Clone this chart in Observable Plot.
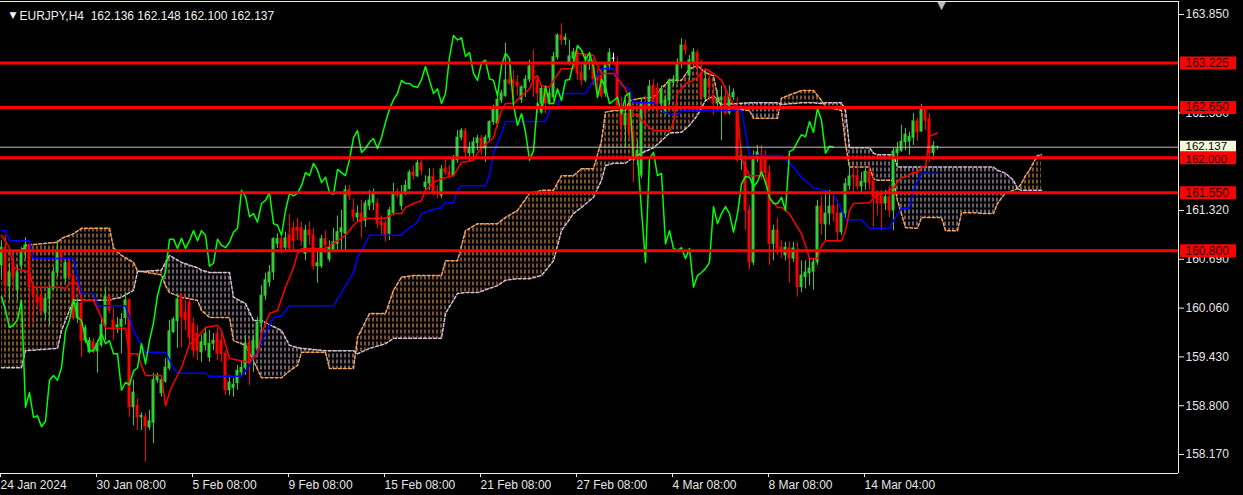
<!DOCTYPE html>
<html><head><meta charset="utf-8">
<script src="https://cdn.jsdelivr.net/npm/d3@7"></script>
<script src="https://cdn.jsdelivr.net/npm/@observablehq/plot@0.6"></script>
<style>
html,body{margin:0;padding:0;background:#000;}
#chart{width:1243px;height:495px;overflow:hidden;}
</style></head><body><div id="chart"></div>
<script>
// ---------- DATA ----------
const symbol = "EURJPY,H4";
const quote = "162.136 162.148 162.100 162.137";

const open = [
160.61,160.84,160.34,160.64,160.29,160.61,160.78,160.87,160.33,160.21,
160.21,160.00,160.18,160.31,160.52,160.78,160.44,160.64,160.47,159.93,
160.12,159.64,159.49,159.62,159.50,159.58,159.84,160.21,159.90,159.81,
159.82,159.93,160.16,158.78,158.80,158.65,158.65,158.52,158.58,159.13,
158.96,159.11,159.28,159.75,159.89,160.22,160.00,160.13,159.86,159.73,
159.49,159.58,159.42,159.60,159.73,159.64,159.47,159.00,159.03,159.09,
159.23,159.29,159.60,159.45,159.54,159.86,160.22,160.39,160.52,160.89,
160.95,160.84,161.00,161.09,161.10,161.09,160.76,161.06,161.00,160.60,
160.60,160.95,160.69,160.80,160.89,161.04,161.02,161.58,161.32,161.23,
161.28,161.19,161.38,161.42,161.41,161.17,161.15,161.02,161.29,161.55,
161.38,161.54,161.60,161.81,161.76,161.93,161.62,161.67,161.75,161.55,
161.51,161.86,161.81,161.77,161.97,162.26,162.34,162.06,162.06,162.19,
162.25,162.12,162.26,162.46,162.44,162.74,162.80,163.00,163.00,162.97,
162.75,162.90,163.01,163.19,163.00,162.70,162.89,162.70,162.78,163.30,
163.58,163.52,163.23,163.28,163.36,163.09,163.00,163.22,163.22,163.06,
163.06,162.83,163.19,163.28,163.23,162.65,162.42,162.57,162.33,161.99,
161.77,162.71,162.65,162.93,162.89,162.70,162.58,162.74,162.97,163.00,
163.22,163.45,163.06,163.23,163.35,163.09,162.78,163.01,162.80,162.70,
162.74,162.78,162.58,162.78,162.61,161.97,161.94,161.32,160.65,161.99,
162.04,162.00,161.80,160.89,161.06,160.84,160.74,160.83,160.70,160.80,
160.33,160.46,160.51,160.53,160.65,161.37,161.14,161.28,161.38,161.28,
161.04,161.28,161.64,161.77,161.76,161.63,161.68,161.82,161.69,161.54,
161.54,161.41,161.49,161.32,162.06,162.09,162.20,162.21,162.26,162.47,
162.34,162.64,162.50,162.06,162.136];
const high = [
160.93,161.00,160.64,160.74,160.61,160.84,160.97,160.89,160.38,160.29,
160.33,160.25,160.35,160.58,160.93,160.83,160.70,160.67,160.51,160.18,
160.16,159.84,159.68,159.67,159.64,159.94,160.33,160.22,160.06,159.94,
159.99,160.26,160.18,159.13,158.89,158.71,158.70,158.74,159.22,159.22,
159.16,159.41,159.90,159.94,160.25,160.25,160.16,160.18,159.93,159.84,
159.71,159.80,159.77,159.73,159.80,159.73,159.51,159.19,159.15,159.32,
159.38,159.71,159.67,159.71,159.94,160.35,160.51,160.61,160.97,161.02,
161.02,161.04,161.27,161.17,161.22,161.17,161.13,161.17,161.09,160.80,
161.00,161.06,160.93,161.09,161.25,161.32,161.64,161.64,161.47,161.38,
161.45,161.45,161.58,161.60,161.47,161.25,161.19,161.36,161.67,161.60,
161.64,161.71,161.84,161.90,161.97,161.97,161.77,161.86,161.86,161.64,
161.90,161.97,161.90,162.03,162.35,162.38,162.38,162.20,162.26,162.29,
162.29,162.29,162.48,162.68,162.80,162.87,163.48,163.26,163.13,163.06,
162.93,163.06,163.26,163.39,163.06,162.93,162.93,162.89,163.36,163.60,
163.73,163.60,163.52,163.41,163.39,163.19,163.32,163.32,163.28,163.15,
163.13,163.23,163.41,163.35,163.30,162.78,162.74,162.74,162.42,162.22,
162.77,162.80,163.00,163.01,162.96,162.93,162.80,163.02,163.06,163.28,
163.54,163.52,163.32,163.41,163.39,163.26,163.15,163.13,162.93,162.87,
162.93,162.93,162.93,162.89,162.78,162.09,162.03,161.38,162.09,162.16,
162.16,162.09,161.90,161.13,161.22,160.93,160.91,160.91,160.91,160.91,
160.67,160.67,160.70,160.70,161.45,161.51,161.58,161.58,161.51,161.45,
161.32,161.73,161.94,161.90,161.90,161.81,161.86,161.90,161.81,161.58,
161.58,161.58,161.64,162.12,162.20,162.42,162.38,162.33,162.57,162.51,
162.69,162.66,162.57,162.21,162.148];
const low = [
160.42,160.22,160.16,160.29,160.16,160.55,160.70,159.80,159.86,160.06,
159.99,159.90,159.84,160.29,160.46,160.64,160.38,160.42,159.90,159.86,
159.42,159.60,159.47,159.47,159.22,159.55,159.64,159.99,159.64,159.73,
159.47,159.84,158.65,158.54,158.48,158.48,158.07,158.48,158.31,159.09,
158.91,159.09,159.25,159.73,159.54,159.55,159.77,159.58,159.42,159.38,
159.36,159.51,159.36,159.51,159.38,159.36,158.93,158.93,158.91,159.00,
159.16,159.19,159.06,159.23,159.45,159.77,160.16,160.33,160.42,160.83,
160.76,160.80,160.78,160.80,160.93,160.86,160.67,160.87,160.55,160.38,
160.57,160.76,160.65,160.78,160.80,160.78,160.78,161.45,161.17,161.17,
160.96,161.10,161.32,161.32,161.09,161.00,160.91,160.93,161.25,161.47,
161.32,161.51,161.58,161.71,161.75,161.77,161.55,161.58,161.51,161.47,
161.47,161.77,161.73,161.75,161.93,162.22,161.97,161.94,162.00,162.09,
162.03,161.94,162.22,162.42,162.39,162.70,162.78,162.93,162.74,162.80,
162.70,162.78,162.97,162.78,162.57,162.58,162.57,162.68,162.74,163.26,
163.45,163.45,163.19,163.23,163.00,162.93,162.97,163.13,162.93,162.80,
162.77,162.78,163.13,163.23,162.64,162.21,162.12,162.22,161.68,161.90,
161.73,162.42,162.61,162.61,162.52,162.58,162.55,162.68,162.93,162.96,
163.15,163.32,163.00,163.18,163.06,162.74,162.74,162.74,162.55,162.61,
162.22,162.55,162.55,162.74,161.94,161.84,161.06,160.55,160.61,161.94,
161.71,161.73,160.61,160.67,160.74,160.70,160.67,160.38,160.65,160.20,
160.26,160.31,160.35,160.29,160.61,161.00,160.93,161.13,161.17,160.91,
161.00,161.22,161.58,161.55,161.58,161.55,161.58,161.58,161.10,161.25,
161.06,161.32,161.23,161.06,161.87,162.07,162.09,162.03,162.16,162.21,
162.33,162.35,161.94,161.97,162.100];
const close = [
160.84,160.35,160.52,160.46,160.52,160.79,160.87,160.33,160.22,160.13,
160.02,160.18,160.31,160.52,160.78,160.71,160.64,160.46,159.93,160.12,
159.64,159.80,159.64,159.49,159.60,159.84,160.21,160.03,159.81,159.84,
159.91,160.16,158.78,158.97,158.65,158.67,158.53,158.60,159.13,159.19,
159.13,159.29,159.76,159.91,160.17,159.94,159.90,159.68,159.51,159.51,
159.62,159.73,159.60,159.64,159.47,159.47,159.00,159.10,159.07,159.25,
159.29,159.60,159.34,159.64,159.87,160.22,160.42,160.52,160.95,160.95,
160.83,160.96,160.83,160.93,161.06,160.93,161.06,161.00,160.60,160.64,
160.95,160.87,160.84,160.91,161.04,161.09,161.58,161.50,161.24,161.28,
161.17,161.41,161.45,161.55,161.15,161.13,161.00,161.32,161.54,161.51,
161.54,161.64,161.81,161.77,161.93,161.84,161.68,161.75,161.55,161.53,
161.85,161.81,161.77,161.98,162.26,162.35,162.07,162.12,162.20,162.25,
162.12,162.26,162.46,162.63,162.75,162.83,163.00,162.96,162.96,162.92,
162.91,163.01,163.18,163.00,162.83,162.89,162.70,162.83,163.30,163.58,
163.52,163.55,163.31,163.36,163.09,163.00,163.23,163.26,163.02,163.00,
162.80,163.19,163.35,163.28,162.68,162.42,162.57,162.33,161.97,162.09,
162.71,162.58,162.92,162.70,162.70,162.89,162.74,163.00,163.01,163.23,
163.45,163.39,163.26,163.36,163.17,162.78,163.01,162.91,162.70,162.74,
162.78,162.57,162.80,162.84,161.97,162.03,161.32,160.65,161.99,162.07,
161.77,161.80,160.89,161.06,160.83,160.80,160.84,160.70,160.83,160.33,
160.48,160.52,160.57,160.65,161.37,161.15,161.28,161.37,161.28,161.04,
161.28,161.66,161.76,161.75,161.63,161.69,161.82,161.68,161.49,161.41,
161.41,161.49,161.32,162.08,162.11,162.21,162.30,162.27,162.47,162.33,
162.64,162.48,162.06,162.15,162.137];

// Ichimoku lines: [bar, price]
const tenkan = [[0,161.00],[2,160.84],[3,160.58],[7,160.52],[8,160.33],[15,160.33],[16,160.31],[17,160.38],[19,160.38],[20,160.16],
[23,160.16],[25,159.94],[26,159.80],[31,159.80],[32,159.47],[34,159.47],[35,159.32],[36,159.19],[40,159.19],[41,158.80],
[42,158.97],[43,159.09],[45,159.29],[47,159.59],[49,159.68],[51,159.81],[54,159.84],[55,159.77],[57,159.41],[60,159.38],
[62,159.36],[64,159.47],[65,159.73],[67,159.99],[69,160.03],[71,160.33],[73,160.58],[74,160.76],[75,160.83],[81,160.83],
[84,160.93],[86,161.00],[88,161.13],[90,161.22],[96,161.22],[98,161.28],[100,161.28],[101,161.36],[103,161.41],[105,161.45],
[106,161.58],[108,161.68],[110,161.73],[113,161.77],[115,161.94],[118,161.97],[119,162.06],[120,162.13],[123,162.26],[124,162.44],
[125,162.61],[126,162.70],[128,162.70],[130,162.80],[132,162.89],[133,163.02],[134,163.06],[135,162.93],[137,162.91],[138,163.00],
[140,163.15],[143,163.15],[144,163.35],[148,163.32],[149,163.19],[150,163.09],[153,163.09],[155,162.96],[156,162.89],[157,162.74],
[158,162.55],[159,162.57],[160,162.48],[163,162.35],[167,162.35],[168,162.44],[169,162.83],[171,162.96],[173,163.00],[174,163.04],
[176,163.15],[178,163.09],[180,163.00],[182,162.78],[184,162.61],[185,162.00],[186,161.88],[187,161.77],[191,161.77],[192,161.48],
[194,161.36],[195,161.36],[197,161.28],[198,161.19],[200,161.02],[201,160.87],[202,160.70],[204,160.70],[205,160.87],[206,160.93],
[210,160.93],[211,161.06],[212,161.32],[213,161.41],[217,161.42],[218,161.48],[220,161.55],[221,161.55],[223,161.62],[225,161.75],
[226,161.75],[228,161.81],[229,161.81],[230,161.88],[231,161.88],[232,162.28],[234,162.32]];
const kijun = [[0,161.06],[1,161.06],[2,160.93],[7,160.93],[8,160.70],[18,160.70],[20,160.25],[23,160.25],[24,160.09],[31,160.09],
[33,159.77],[34,159.68],[35,159.58],[36,159.49],[41,159.49],[43,159.29],[44,159.22],[51,159.22],[52,159.18],[60,159.18],
[62,159.32],[64,159.51],[66,159.73],[68,159.94],[70,159.96],[72,160.09],[83,160.09],[84,160.18],[86,160.35],[88,160.52],
[89,160.71],[90,160.80],[92,161.00],[100,161.00],[101,161.06],[103,161.13],[104,161.17],[105,161.28],[107,161.32],[110,161.36],
[111,161.42],[113,161.42],[114,161.58],[115,161.64],[121,161.64],[122,161.77],[123,162.06],[124,162.19],[125,162.31],[126,162.47],
[136,162.47],[137,162.61],[139,162.66],[140,162.83],[146,162.83],[148,163.00],[150,163.15],[153,163.15],[155,162.93],[157,162.89],
[158,162.71],[163,162.71],[166,162.58],[168,162.55],[169,162.55],[170,162.61],[185,162.61],[186,162.33],[187,162.03],[195,162.03],
[198,161.88],[200,161.75],[203,161.61],[206,161.58],[208,161.54],[210,161.32],[211,161.20],[215,161.20],[217,161.09],[222,161.09],
[223,161.19],[225,161.35],[227,161.35],[228,161.58],[230,161.80],[234,161.80]];
// Senkou span A / span B: [bar, spanA, spanB]
const senkou = [[0,160.80,159.29],[5,160.80,159.29],[6,160.87,159.51],[14,160.91,159.54],[15,160.96,159.77],[17,161.00,160.03],
[18,161.02,160.16],[20,161.09,160.16],[27,161.09,160.16],[28,160.84,160.18],[30,160.74,160.20],[33,160.65,160.29],[34,160.54,160.53],
[40,160.49,160.55],[41,160.35,160.65],[42,160.26,160.74],[45,160.20,160.65],[49,160.16,160.58],[50,160.03,160.55],[52,159.94,160.52],
[57,159.94,160.52],[58,159.64,160.20],[61,159.58,160.12],[63,159.38,159.90],[65,159.16,159.90],[70,159.16,159.77],[72,159.25,159.58],
[74,159.32,159.55],[75,159.49,159.54],[81,159.49,159.51],[82,159.28,159.51],[88,159.28,159.51],
[89,159.68,159.47],[92,159.99,159.54],[96,159.99,159.60],[98,160.29,159.67],[100,160.46,159.67],[103,160.48,159.67],[110,160.48,159.67],
[111,160.67,159.99],[114,160.67,160.25],[116,161.06,160.26],[119,161.15,160.26],[124,161.15,160.35],[126,161.23,160.42],[129,161.32,160.44],
[132,161.54,160.44],[135,161.58,160.48],[138,161.58,160.67],[140,161.77,161.06],[143,161.77,161.28],[145,161.86,161.36],[148,161.86,161.49],
[150,162.22,161.71],[151,162.59,161.90],[153,162.61,161.93],[156,162.61,161.93],[157,162.74,161.97],[160,162.77,162.06],[163,162.78,162.13],
[165,162.90,162.22],[167,163.00,162.32],[170,163.00,162.33],[172,163.15,162.42],[174,163.19,162.55],[176,163.10,162.74],[178,163.06,162.80],
[179,162.80,162.74],[180,162.65,162.69],[187,162.61,162.71],[188,162.51,162.71],[194,162.51,162.71],
[195,162.77,162.69],[200,162.87,162.71],[203,162.87,162.71],[205,162.74,162.70],
[206,162.66,162.71],[210,162.61,162.71],[211,162.18,162.61],[212,161.88,162.13],[217,161.88,162.13],[218,161.73,162.06],[219,161.71,162.04],
[223,161.71,162.04],[224,161.45,161.88],[226,161.10,161.88],[229,161.09,161.88],[230,161.23,161.88],[235,161.23,161.88],[236,161.06,161.88],
[239,161.06,161.88],[240,161.29,161.88],[244,161.29,161.88],[245,161.28,161.88],[248,161.28,161.88],[249,161.41,161.84],[251,161.55,161.80],
[253,161.58,161.71],[254,161.60,161.60],[255,161.67,161.58],[256,161.77,161.58],[257,161.84,161.58],[258,161.94,161.58],[259,162.03,161.58],
[260,162.04,161.58]];

const levels = [163.225, 162.650, 162.000, 161.550, 160.800];
const bid = 162.137;
const yTicks = [158.17, 158.80, 159.43, 160.06, 160.69, 161.32, 162.58, 163.85];
const xTickBars = [0, 24, 48, 72, 96, 120, 144, 168, 192, 216];
const xTickLabels = ["24 Jan 2024","30 Jan 08:00","5 Feb 08:00","9 Feb 08:00","15 Feb 08:00","21 Feb 08:00","27 Feb 08:00","4 Mar 08:00","8 Mar 08:00","14 Mar 04:00"];
const chikouShift = 26;

// ---------- CHART ----------
const xDomain = [-0.25, 294.25];
const yDomain = [157.925, 164.018];
const font = "'Liberation Sans', Arial, sans-serif";
const textColor = "#e6e6e6";
const frameColor = "#eeeedd";

const candles = open.map((o, i) => ({i, o, h: high[i], l: low[i], c: close[i]}));
const candleColor = d => d.c > d.o ? "#32cd32" : d.c < d.o ? "#ff0000" : "#ffffff";
const chikou = candles.slice(chikouShift).map(d => ({i: d.i - chikouShift, c: d.c}));

const cloud = senkou.map(([i, a, b]) => ({i, a, b}));
const runs = [];
cloud.forEach(d => {
  const up = d.a >= d.b;
  if (!runs.length || runs[runs.length - 1].up !== up) runs.push({up, pts: []});
  runs[runs.length - 1].pts.push(d);
});
for (let r = 0; r < runs.length - 1; r++) runs[r].pts.push(runs[r + 1].pts[0]);
const cloudRows = runs.flatMap((r, k) => r.pts.map(p => ({...p, run: k, up: r.up})));

const xEnd = xDomain[1];
const plot = Plot.plot({
  width: 1243, height: 495,
  marginLeft: 0, marginRight: 65, marginTop: 1, marginBottom: 22,
  x: {domain: xDomain},
  y: {domain: yDomain},
  color: {type: "identity"},
  style: {background: "#000", color: textColor, fontFamily: font, fontSize: "12px", overflow: "visible"},
  marks: [
    Plot.areaY(cloudRows.filter(d => d.up), {x: "i", y1: "a", y2: "b", z: "run", fill: "url(#hatchUp)"}),
    Plot.areaY(cloudRows.filter(d => !d.up), {x: "i", y1: "a", y2: "b", z: "run", fill: "url(#hatchDn)"}),
    Plot.line(cloud, {x: "i", y: "a", stroke: "#f4a460", strokeDasharray: "3,2"}),
    Plot.line(cloud, {x: "i", y: "b", stroke: "#d8bfd8", strokeDasharray: "3,2"}),
    Plot.ruleX(candles, {x: "i", y1: "l", y2: "h", stroke: candleColor}),
    Plot.rect(candles, {x1: d => d.i - 0.375, x2: d => d.i + 0.375, y1: "o", y2: "c", fill: candleColor, insetTop: -0.5, insetBottom: -0.5}),
    Plot.line(kijun, {x: d => d[0], y: d => d[1], stroke: "#0000ff"}),
    Plot.line(tenkan, {x: d => d[0], y: d => d[1], stroke: "#ff0000"}),
    Plot.line(chikou, {x: "i", y: "c", stroke: "#00ff00"}),
    Plot.ruleY([bid], {stroke: "#c0c0c0"}),
    Plot.ruleY(levels, {stroke: "#ff0000", strokeWidth: 3}),
    Plot.ruleY([yDomain[1]], {stroke: frameColor}),
    Plot.ruleY([yDomain[0]], {stroke: frameColor}),
    Plot.ruleX([xDomain[1]], {stroke: frameColor}),
    Plot.axisY({anchor: "right", ticks: yTicks, tickFormat: d => d.toFixed(3), tickSize: 5, tickPadding: 2, label: null, stroke: frameColor, fill: textColor}),
    Plot.axisX({anchor: "bottom", ticks: xTickBars, tickFormat: d => xTickLabels[xTickBars.indexOf(d)], tickSize: 4, tickPadding: 3, textAnchor: "start", dx: -1, label: null, stroke: frameColor, fill: textColor}),
    Plot.ruleY([bid], {x1: xEnd + 0.5, x2: xEnd + 14.5, stroke: "#f8f8da", strokeWidth: 13}),
    Plot.text([bid], {x: xEnd, y: d => d, text: d => d.toFixed(3), dx: 7, dy: -1, fontSize: 11.5, textAnchor: "start", fill: "#000"}),
    Plot.ruleY(levels, {x1: xEnd + 0.5, x2: xEnd + 14.5, stroke: "#ff0000", strokeWidth: 13}),
    Plot.text(levels.filter(d => d !== 162.000), {x: xEnd, y: d => d, text: d => d.toFixed(3), dx: 7, textAnchor: "start", fill: "#200000"}),
    Plot.text(levels.filter(d => d === 162.000), {x: xEnd, y: d => d, text: d => d.toFixed(3), dx: 7, dy: 1.5, fontSize: 11.5, textAnchor: "start", fill: "#200000"}),
    Plot.text(["\u25BC"], {x: () => open.length, frameAnchor: "top", lineAnchor: "top", dy: 0, fontSize: 11, fill: "#b8b8b8", fontFamily: "'DejaVu Sans', sans-serif"}),
    Plot.text(["\u25BC"], {frameAnchor: "top-left", dx: 9, dy: 10, fontSize: 9, fill: "#f0f0f0", fontFamily: "'DejaVu Sans', sans-serif"}),
    Plot.text([symbol + "  " + quote], {frameAnchor: "top-left", dx: 19, dy: 10, textAnchor: "start", fill: "#f0f0f0"})
  ]
});

// hatch patterns for the Kumo cloud (tile grid locked to device pixels, one dotted column per bar)
const defs = d3.select(plot).insert("defs", ":first-child");
[["hatchUp", "#f4a460"], ["hatchDn", "#d8bfd8"]].forEach(([id, col]) => {
  const p = defs.append("pattern").attr("id", id).attr("patternUnits", "userSpaceOnUse")
    .attr("patternTransform", "translate(-0.5,-0.5)")
    .attr("width", 4).attr("height", 6);
  p.append("rect").attr("x", 1).attr("y", 0).attr("width", 1).attr("height", 4)
    .attr("fill", col).attr("shape-rendering", "crispEdges");
});
document.getElementById("chart").appendChild(plot);
</script></body></html>
